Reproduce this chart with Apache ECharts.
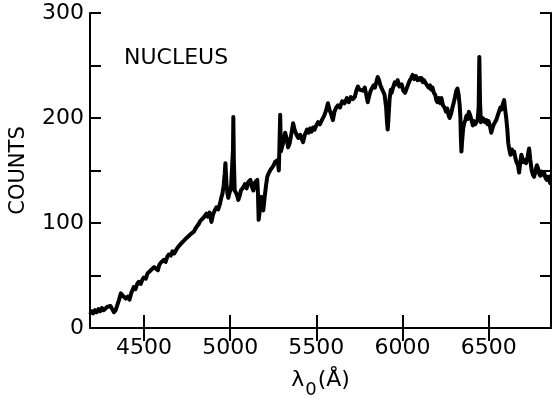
<!DOCTYPE html>
<html>
<head>
<meta charset="utf-8">
<script src="https://cdn.jsdelivr.net/npm/echarts@6/dist/echarts.min.js"></script>
<style>
html,body{margin:0;padding:0;background:#fff;}
#chart{width:552px;height:404px;}
</style>
</head>
<body>
<div id="chart"></div>
<script>
// Wavelength (Å) of each traced sample
const wavelengths = [
  4188, 4195, 4205, 4215, 4225, 4235, 4245, 4255, 4265, 4275, 4285, 4296, 4305, 4315, 4325, 4335,
  4345, 4355, 4365, 4375, 4385, 4394, 4405, 4415, 4425, 4440, 4450, 4460, 4469, 4480, 4490, 4498,
  4510, 4520, 4530, 4539, 4550, 4558, 4567, 4580, 4588, 4596, 4607, 4615, 4625, 4635, 4643, 4655,
  4665, 4675, 4683, 4692, 4700, 4712, 4722, 4730, 4740, 4748, 4758, 4768, 4778, 4790, 4799, 4808,
  4817, 4826, 4835, 4845, 4855, 4862, 4870, 4880, 4891, 4900, 4910, 4920, 4930, 4940, 4948, 4955,
  4962, 4968, 4972, 4978, 4984, 4989, 4996, 5004, 5013, 5016, 5018, 5021, 5026, 5036, 5042, 5047,
  5055, 5062, 5070, 5076, 5085, 5095, 5105, 5117, 5125, 5134, 5145, 5157, 5161, 5165, 5172, 5180,
  5186, 5192, 5200, 5208, 5215, 5225, 5235, 5244, 5252, 5260, 5268, 5275, 5282, 5286, 5290, 5294,
  5302, 5310, 5319, 5328, 5336, 5345, 5355, 5365, 5375, 5385, 5395, 5406, 5415, 5423, 5433, 5446,
  5455, 5463, 5472, 5481, 5490, 5500, 5510, 5521, 5532, 5545, 5556, 5567, 5576, 5585, 5596, 5605,
  5615, 5625, 5637, 5650, 5663, 5677, 5688, 5700, 5712, 5723, 5732, 5741, 5750, 5760, 5770, 5781,
  5790, 5798, 5805, 5815, 5822, 5832, 5840, 5848, 5856, 5864, 5872, 5880, 5888, 5896, 5905, 5910,
  5914, 5918, 5925, 5932, 5937, 5945, 5955, 5963, 5972, 5982, 5995, 6005, 6015, 6024, 6033, 6040,
  6050, 6059, 6068, 6078, 6088, 6099, 6106, 6111, 6118, 6125, 6135, 6145, 6152, 6160, 6167, 6174,
  6182, 6190, 6196, 6203, 6212, 6220, 6226, 6235, 6244, 6252, 6260, 6267, 6273, 6282, 6290, 6298,
  6305, 6312, 6319, 6326, 6332, 6336, 6339, 6342, 6346, 6352, 6358, 6365, 6371, 6378, 6385, 6392,
  6400, 6408, 6415, 6422, 6429, 6436, 6442, 6446, 6450, 6455, 6460, 6466, 6472, 6479, 6486, 6493,
  6500, 6508, 6515, 6522, 6530, 6537, 6544, 6552, 6560, 6568, 6575, 6582, 6590, 6596, 6602, 6608,
  6614, 6620, 6627, 6635, 6642, 6648, 6655, 6662, 6670, 6677, 6684, 6690, 6695, 6702, 6710, 6718,
  6726, 6735, 6742, 6750, 6757, 6764, 6772, 6780, 6787, 6793, 6800, 6808, 6815, 6822, 6830, 6838,
  6845, 6851, 6857, 6862
];
// Counts
const counts = [
  13, 16, 14, 17, 15, 18, 16, 19, 17, 18, 20, 19, 21, 18, 15, 17,
  22, 27, 33, 31, 30, 28, 30, 27, 33, 39, 37, 42, 44, 42, 46, 48,
  47, 52, 51, 55, 54, 58, 57, 55, 60, 62, 61, 65, 63, 68, 70, 69,
  73, 71, 72, 76, 75, 80, 79, 83, 82, 86, 85, 89, 88, 92, 95, 94,
  99, 102, 101, 105, 104, 109, 106, 110, 101, 108, 112, 115, 113, 118, 124, 128,
  136, 147, 157, 138, 128, 124, 129, 132, 131, 170, 201, 160, 131, 128, 125, 122,
  126, 131, 130, 134, 137, 133, 139, 141, 135, 131, 139, 141, 128, 103, 112, 125,
  121, 112, 125, 136, 144, 148, 151, 153, 155, 158, 157, 160, 150, 175, 203, 168,
  167, 178, 186, 180, 172, 176, 185, 195, 188, 184, 181, 184, 180, 177, 184, 189,
  186, 190, 187, 191, 189, 193, 196, 194, 198, 202, 207, 214, 208, 204, 198, 206,
  210, 212, 210, 216, 214, 219, 215, 220, 218, 220, 226, 230, 227, 228, 226, 229,
  222, 215, 220, 226, 228, 231, 229, 234, 239, 236, 231, 228, 225, 222, 210, 196,
  189, 198, 218, 227, 224, 229, 234, 232, 236, 230, 232, 226, 224, 228, 232, 235,
  238, 241, 237, 240, 236, 238, 236, 238, 234, 236, 233, 233, 229, 231, 227, 229,
  224, 222, 217, 215, 219, 214, 219, 212, 210, 206, 209, 203, 200, 204, 210, 215,
  220, 226, 228, 222, 212, 200, 180, 168, 178, 190, 195, 198, 202, 199, 206, 203,
  198, 193, 197, 194, 193, 198, 210, 258, 215, 196, 195, 200, 198, 196, 198, 194,
  197, 192, 186, 190, 194, 196, 198, 202, 206, 210, 208, 213, 217, 208, 200, 190,
  176, 170, 165, 170, 166, 168, 162, 158, 155, 148, 158, 165, 162, 158, 160, 157,
  163, 171, 160, 150, 146, 144, 150, 155, 152, 147, 145, 149, 146, 148, 143, 141,
  144, 141, 138, 146
];
const xTicks = [4500, 5000, 5500, 6000, 6500];
const yTicks = [0, 50, 100, 150, 200, 250, 300];
const yLabels = [0, 100, 200, 300];

const data = wavelengths.map((w, i) => [w, counts[i]]);
const FONT = 'DejaVu Sans';
const chart = echarts.init(document.getElementById('chart'), null, {renderer: 'canvas'});
const lineStyle = {color: '#000', width: 2};
chart.setOption({
  animation: false,
  backgroundColor: '#fff',
  grid: {left: 89, right: 1, top: 13, bottom: 76, containLabel: false},
  xAxis: [{
    type: 'value', min: 4186, max: 6862, position: 'bottom',
    axisLine: {show: true, lineStyle: lineStyle},
    axisTick: {show: true, inside: true, length: 13, lineStyle: lineStyle, customValues: xTicks},
    axisLabel: {show: true, color: '#000', fontFamily: FONT, fontSize: 22, margin: 9, customValues: xTicks,
      formatter: v => String(v)},
    splitLine: {show: false},
    name: '{a|λ}{s|0}{a|(Å)}',
    nameLocation: 'middle', nameGap: 41,
    nameTextStyle: {
      rich: {
        a: {fontFamily: FONT, fontSize: 22, color: '#000', verticalAlign: 'top'},
        s: {fontFamily: FONT, fontSize: 18, color: '#000', padding: [12, 1, 0, 1], verticalAlign: 'top'}
      }
    }
  }, {
    type: 'value', min: 4186, max: 6862, position: 'top',
    axisLine: {show: true, lineStyle: lineStyle},
    axisTick: {show: true, inside: true, length: 13, lineStyle: lineStyle, customValues: xTicks},
    axisLabel: {show: false},
    splitLine: {show: false}
  }],
  yAxis: [{
    type: 'value', min: 0, max: 300, position: 'left',
    axisLine: {show: true, lineStyle: lineStyle},
    axisTick: {show: true, inside: true, length: 11, lineStyle: lineStyle, customValues: yTicks},
    axisLabel: {show: true, color: '#000', fontFamily: FONT, fontSize: 22, margin: 6, customValues: yLabels},
    splitLine: {show: false},
    name: 'COUNTS', nameLocation: 'middle', nameGap: 61, nameRotate: 90,
    nameTextStyle: {fontFamily: FONT, fontSize: 21, color: '#000'}
  }, {
    type: 'value', min: 0, max: 300, position: 'right',
    axisLine: {show: true, lineStyle: lineStyle},
    axisTick: {show: true, inside: true, length: 11, lineStyle: lineStyle, customValues: yTicks},
    axisLabel: {show: false},
    splitLine: {show: false}
  }],
  graphic: [{
    type: 'text', left: 124, top: 47,
    style: {text: 'NUCLEUS', fontFamily: FONT, fontSize: 22, fill: '#000'}
  }],
  series: [{
    type: 'line', data: data, xAxisIndex: 0, yAxisIndex: 0,
    showSymbol: false, symbol: 'none', smooth: false,
    lineStyle: {color: '#000', width: 4, join: 'round'},
    clip: true
  }]
});
</script>
</body>
</html>
